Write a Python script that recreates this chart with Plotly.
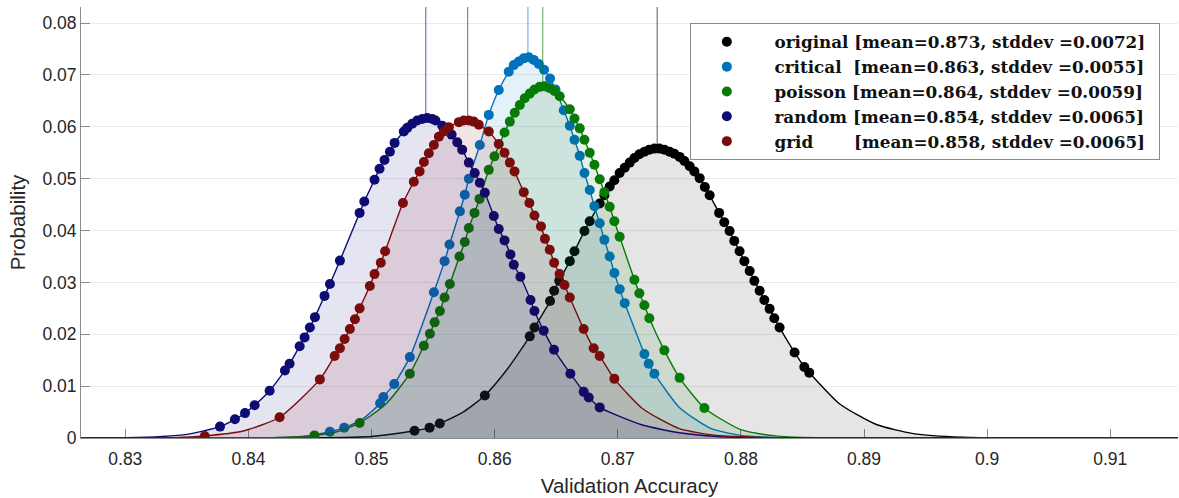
import plotly.graph_objects as go

# ---------------- data ----------------
names = ["original", "critical", "poisson", "random", "grid"]
legend_pad = ["", "\u00a0", "", "", "\u00a0\u00a0\u00a0\u00a0\u00a0\u00a0"]
legend_mean = [0.873, 0.863, 0.864, 0.854, 0.858]
legend_std = [0.0072, 0.0055, 0.0059, 0.0065, 0.0065]
mean_line_x = [0.8732, 0.8627, 0.8639, 0.8544, 0.8578]
colors = ["#000000", "#0072BD", "#077a07", "#0c0c72", "#7a0c0c"]
fill_rgb = ["0,0,0", "0,114,189", "0,120,0", "0,0,128", "128,0,0"]

# dots (observed validation accuracies and their probabilities)
original_x = [0.85349, 0.85471, 0.85554, 0.85920, 0.86285, 0.86323, 0.86450, 0.86483, 0.86524,
              0.86610, 0.86648, 0.86729, 0.86772, 0.86853, 0.86891, 0.86934, 0.86972, 0.87015,
              0.87056, 0.87097, 0.87135, 0.87175, 0.87216, 0.87256, 0.87297, 0.87338, 0.87378,
              0.87421, 0.87459, 0.87502, 0.87541, 0.87584, 0.87622, 0.87665, 0.87707, 0.87746,
              0.87823, 0.87865, 0.87908, 0.87946, 0.87989, 0.88028, 0.88071, 0.88109, 0.88152,
              0.88190, 0.88233, 0.88271, 0.88314, 0.88436, 0.88515, 0.88555]
original_y = [0.0014, 0.0020, 0.0028, 0.0082, 0.0196, 0.0213, 0.0264, 0.0284, 0.0303,
              0.0341, 0.0360, 0.0399, 0.0418, 0.0452, 0.0468, 0.0485, 0.0497, 0.0511,
              0.0521, 0.0531, 0.0540, 0.0547, 0.0552, 0.0556, 0.0558, 0.0558, 0.0556,
              0.0552, 0.0548, 0.0542, 0.0534, 0.0524, 0.0514, 0.0501, 0.0484, 0.0468,
              0.0434, 0.0416, 0.0399, 0.0380, 0.0360, 0.0341, 0.0322, 0.0303, 0.0284,
              0.0266, 0.0249, 0.0231, 0.0213, 0.0165, 0.0137, 0.0126]
original_tail_x = [0.8264, 0.840, 0.845, 0.850, 0.8575, 0.8610, 0.888, 0.891, 0.894, 0.898, 0.903, 0.9155]
original_tail_y = [0.0, 0.0, 0.00003, 0.0003, 0.0051, 0.0132, 0.0066, 0.0026, 0.00085, 0.00015, 0.00001, 0.0]

critical_x = [0.84662, 0.84778, 0.85069, 0.85096, 0.85184, 0.85311, 0.85506, 0.85593, 0.85633,
              0.85717, 0.85757, 0.85790, 0.85879, 0.85952, 0.86033, 0.86114, 0.86155, 0.86196,
              0.86236, 0.86277, 0.86317, 0.86358, 0.86401, 0.86450, 0.86494, 0.86561, 0.86610,
              0.86648, 0.86691, 0.86729, 0.86772, 0.86810, 0.86853, 0.86891, 0.86934, 0.86972,
              0.87015, 0.87056, 0.87216, 0.87251, 0.87297]
critical_y = [0.0012, 0.0020, 0.0067, 0.0079, 0.0104, 0.0156, 0.0281, 0.0341, 0.0373,
              0.0437, 0.0469, 0.0500, 0.0565, 0.0623, 0.0671, 0.0706, 0.0719, 0.0726,
              0.0732, 0.0734, 0.0729, 0.0721, 0.0710, 0.0693, 0.0672, 0.0632, 0.0602,
              0.0575, 0.0544, 0.0511, 0.0478, 0.0447, 0.0414, 0.0382, 0.0350, 0.0318,
              0.0287, 0.0260, 0.0162, 0.0143, 0.0124]
critical_tail_x = [0.8264, 0.838, 0.842, 0.8445, 0.8493, 0.875, 0.8775, 0.880, 0.884, 0.9155]
critical_tail_y = [0.0, 0.0, 0.00006, 0.0003, 0.0037, 0.0059, 0.0019, 0.0005, 0.00004, 0.0]

poisson_x = [0.84536, 0.84903, 0.85311, 0.85425, 0.85474, 0.85512, 0.85555, 0.85593, 0.85636,
             0.85714, 0.85757, 0.85790, 0.85836, 0.85877, 0.85952, 0.85998, 0.86080, 0.86123,
             0.86163, 0.86204, 0.86244, 0.86285, 0.86323, 0.86366, 0.86402, 0.86443, 0.86485,
             0.86528, 0.86610, 0.86648, 0.86691, 0.86729, 0.86772, 0.86810, 0.86853, 0.86891,
             0.86934, 0.86972, 0.87015, 0.87135, 0.87175, 0.87216, 0.87256, 0.87378, 0.87502,
             0.87703]
poisson_y = [0.0005, 0.0029, 0.0124, 0.0178, 0.0201, 0.0223, 0.0245, 0.0271, 0.0297,
             0.0350, 0.0378, 0.0405, 0.0434, 0.0461, 0.0517, 0.0543, 0.0589, 0.0610,
             0.0627, 0.0642, 0.0655, 0.0664, 0.0672, 0.0677, 0.0678, 0.0675, 0.0669,
             0.0659, 0.0634, 0.0616, 0.0597, 0.0575, 0.0550, 0.0527, 0.0499, 0.0474,
             0.0446, 0.0418, 0.0388, 0.0305, 0.0279, 0.0256, 0.0231, 0.0169, 0.0116,
             0.0058]
poisson_tail_x = [0.8264, 0.838, 0.842, 0.8472, 0.8511, 0.880, 0.883, 0.887, 0.9155]
poisson_tail_y = [0.0, 0.00001, 0.00007, 0.0012, 0.0064, 0.0016, 0.00036, 0.00003, 0.0]

random_x = [0.83769, 0.83890, 0.83972, 0.84050, 0.84172, 0.84296, 0.84334, 0.84416, 0.84456,
            0.84499, 0.84540, 0.84618, 0.84662, 0.84743, 0.84903, 0.84941, 0.85024, 0.85065,
            0.85105, 0.85149, 0.85187, 0.85262, 0.85290, 0.85330, 0.85371, 0.85412, 0.85452,
            0.85493, 0.85519, 0.85574, 0.85650, 0.85696, 0.85736, 0.85790, 0.85838, 0.85879,
            0.85920, 0.85993, 0.86033, 0.86080, 0.86128, 0.86155, 0.86209, 0.86291, 0.86323,
            0.86398, 0.86482, 0.86615, 0.86723, 0.86764, 0.86853]
random_y = [0.0022, 0.0036, 0.0048, 0.0063, 0.0091, 0.0130, 0.0143, 0.0177, 0.0194,
            0.0213, 0.0233, 0.0274, 0.0297, 0.0342, 0.0434, 0.0456, 0.0498, 0.0519,
            0.0536, 0.0552, 0.0569, 0.0591, 0.0598, 0.0606, 0.0612, 0.0615, 0.0617,
            0.0615, 0.0612, 0.0602, 0.0585, 0.0570, 0.0556, 0.0531, 0.0511, 0.0492,
            0.0473, 0.0428, 0.0403, 0.0381, 0.0354, 0.0334, 0.0311, 0.0266, 0.0245,
            0.0207, 0.0170, 0.0124, 0.0089, 0.0078, 0.0059]
random_tail_x = [0.8264, 0.830, 0.833, 0.835, 0.870, 0.872, 0.875, 0.878, 0.882, 0.9155]
random_tail_y = [0.0, 0.00005, 0.0003, 0.0007, 0.0043, 0.0025, 0.0010, 0.0003, 0.00005, 0.0]

grid_x = [0.83645, 0.84253, 0.84580, 0.84700, 0.84743, 0.84781, 0.84824, 0.84865, 0.84903,
          0.84986, 0.85024, 0.85075, 0.85110, 0.85255, 0.85343, 0.85390, 0.85425, 0.85465,
          0.85506, 0.85547, 0.85587, 0.85628, 0.85709, 0.85749, 0.85790, 0.85830, 0.85871,
          0.85952, 0.86033, 0.86080, 0.86123, 0.86161, 0.86236, 0.86282, 0.86323, 0.86376,
          0.86408, 0.86447, 0.86483, 0.86527, 0.86567, 0.86610, 0.86723, 0.86804, 0.86853,
          0.86972]
grid_y = [0.0004, 0.0040, 0.0113, 0.0158, 0.0173, 0.0191, 0.0210, 0.0229, 0.0250,
          0.0293, 0.0316, 0.0338, 0.0360, 0.0453, 0.0494, 0.0514, 0.0532, 0.0549,
          0.0565, 0.0581, 0.0591, 0.0599, 0.0609, 0.0612, 0.0612, 0.0610, 0.0604,
          0.0591, 0.0567, 0.0550, 0.0531, 0.0514, 0.0474, 0.0453, 0.0429, 0.0408,
          0.0384, 0.0363, 0.0338, 0.0316, 0.0295, 0.0271, 0.0210, 0.0173, 0.0158,
          0.0114]
grid_tail_x = [0.8264, 0.830, 0.834, 0.8395, 0.872, 0.875, 0.878, 0.882, 0.886, 0.9155]
grid_tail_y = [0.0, 0.00001, 0.00008, 0.0013, 0.0057, 0.0018, 0.0005, 0.0001, 0.0, 0.0]

x_ticks = [0.83, 0.84, 0.85, 0.86, 0.87, 0.88, 0.89, 0.90, 0.91]
x_tick_text = ["0.83", "0.84", "0.85", "0.86", "0.87", "0.88", "0.89", "0.9", "0.91"]
y_ticks = [0, 0.01, 0.02, 0.03, 0.04, 0.05, 0.06, 0.07, 0.08]
y_tick_text = ["0", "0.01", "0.02", "0.03", "0.04", "0.05", "0.06", "0.07", "0.08"]
x_range = [0.8264, 0.9155]
y_range = [0, 0.0831]

dots_x = [original_x, critical_x, poisson_x, random_x, grid_x]
dots_y = [original_y, critical_y, poisson_y, random_y, grid_y]
tails_x = [original_tail_x, critical_tail_x, poisson_tail_x, random_tail_x, grid_tail_x]
tails_y = [original_tail_y, critical_tail_y, poisson_tail_y, random_tail_y, grid_tail_y]

fig = go.Figure()

lead = "\u00a0\u00a0"
trail = "\u2002"
for i, name in enumerate(names):
    pts = sorted(zip(list(dots_x[i]) + list(tails_x[i]), list(dots_y[i]) + list(tails_y[i])))
    cx = [p[0] for p in pts]
    cy = [p[1] for p in pts]
    fig.add_trace(go.Scatter(
        x=cx, y=cy, mode="lines", line=dict(color=colors[i], width=1.4, shape="spline", smoothing=0.6),
        fill="tozeroy", fillcolor=f"rgba({fill_rgb[i]},0.10)", showlegend=False, hoverinfo="skip"))
    peak = max(dots_y[i])
    fig.add_trace(go.Scatter(
        x=[mean_line_x[i], mean_line_x[i]], y=[peak, y_range[1]], mode="lines",
        line=dict(color=f"rgba({fill_rgb[i]},0.55)", width=1.2), showlegend=False, hoverinfo="skip"))
    label = (f"<b>{lead}{name}{legend_pad[i]} [mean={legend_mean[i]:.3f}, "
             f"stddev\u00a0={legend_std[i]:.4f}]{trail}</b>")
    fig.add_trace(go.Scatter(
        x=dots_x[i], y=dots_y[i], mode="markers", name=label,
        marker=dict(color=colors[i], size=10, line=dict(width=0))))

fig.update_layout(
    width=1179, height=498,
    margin=dict(l=81, r=1, t=7, b=60),
    paper_bgcolor="white", plot_bgcolor="white",
    font=dict(family="Liberation Sans, Arial, sans-serif", color="#262626"),
    legend=dict(
        x=0.555, y=0.962, xanchor="left", yanchor="top",
        bgcolor="white", bordercolor="#8a8a8a", borderwidth=1,
        font=dict(family="DejaVu Serif, serif", size=16.8, color="#111111"),
        tracegroupgap=0, itemwidth=62,
    ),
    xaxis=dict(
        range=x_range, tickvals=x_ticks, ticktext=x_tick_text,
        showgrid=False, zeroline=False, showline=True, linecolor="#8c8c8c", linewidth=1,
        ticks="inside", ticklen=9, tickcolor="#8c8c8c", layer="below traces",
        tickfont=dict(size=17.5, color="#262626"), ticklabelstandoff=5,
        title=dict(text="Validation Accuracy", font=dict(size=20.5, color="#262626"), standoff=10),
    ),
    yaxis=dict(
        range=y_range, tickvals=y_ticks, ticktext=y_tick_text,
        showgrid=True, gridcolor="#ebebeb", gridwidth=1, zeroline=False,
        showline=True, linecolor="#8c8c8c", linewidth=1,
        ticks="inside", ticklen=9, tickcolor="#8c8c8c", layer="below traces",
        tickfont=dict(size=17.5, color="#262626"),
        title=dict(text="Probability", font=dict(size=20.5, color="#262626"), standoff=11),
    ),
)

fig.write_html("out.html")
